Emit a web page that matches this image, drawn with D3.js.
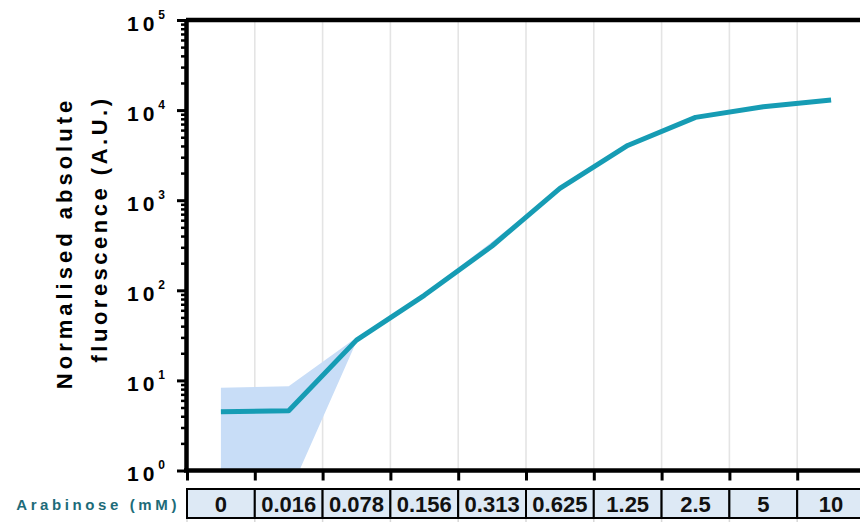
<!DOCTYPE html>
<html>
<head>
<meta charset="utf-8">
<script src="https://cdn.jsdelivr.net/npm/d3@7"></script>
<style>
  body { margin: 0; background: #fff; }
  text { font-family: "Liberation Sans", Arial, sans-serif; }
</style>
</head>
<body>
<div id="chart"></div>
<script>
// arabinose concentrations (mM)
const categories = ["0", "0.016", "0.078", "0.156", "0.313", "0.625", "1.25", "2.5", "5", "10"];
// mean fluorescence and spread
const meanValues = [4.5, 4.6, 28, 88, 310, 1350, 4050, 8300, 10900, 12950];
const upperValues = [8.3, 8.6, 30, 92, 345, 1390, 4150, 8500, 11100, 13150];
const lowerValues = [0.5, 0.54, 27, 85, 300, 1310, 3950, 8100, 10700, 12750];
const majorTicks = [1, 10, 100, 1000, 10000, 100000];
const exponents = ["0", "1", "2", "3", "4", "5"];

const w = 860, h = 522;
const margin = {top: 20, left: 186, bottom: 470.5};

const svg = d3.select("#chart")
  .append("svg")
  .attr("width", w)
  .attr("height", h);

// x scales
const x = d3.scaleBand()
  .domain(categories)
  .range([187, 865])
  .padding(0);
const xIdx = d3.scaleLinear()
  .domain([0, categories.length])
  .range([187, 865]);

// y scale
const y = d3.scaleLog()
  .domain([1, 100000])
  .range([margin.bottom, margin.top]);

// grid lines at category edges
svg.append("g")
  .selectAll("line")
  .data(categories.slice(1))
  .enter()
  .append("line")
  .attr("x1", d => x(d))
  .attr("x2", d => x(d))
  .attr("y1", margin.top)
  .attr("y2", margin.bottom)
  .attr("stroke", "#e4e4e4")
  .attr("stroke-width", 1.6);

// small marks under the table
svg.append("g")
  .selectAll("line")
  .data(categories)
  .enter()
  .append("line")
  .attr("x1", d => x(d))
  .attr("x2", d => x(d))
  .attr("y1", 519)
  .attr("y2", 522)
  .attr("stroke", "#d8d8d8")
  .attr("stroke-width", 1.5);

// clip for the band
svg.append("clipPath")
  .attr("id", "plotClip")
  .append("rect")
  .attr("x", margin.left)
  .attr("y", margin.top)
  .attr("width", w - margin.left)
  .attr("height", margin.bottom - margin.top);

const cx = (d, i) => x(categories[i]) + x.bandwidth() / 2;

const area = d3.area()
  .x(cx)
  .y0((d, i) => y(lowerValues[i]))
  .y1((d, i) => y(upperValues[i]));

svg.append("path")
  .attr("clip-path", "url(#plotClip)")
  .attr("d", area(meanValues))
  .attr("fill", "#c8ddf7");

const line = d3.line()
  .x(cx)
  .y(d => y(d));

svg.append("path")
  .attr("d", line(meanValues))
  .attr("fill", "none")
  .attr("stroke", "#169cb4")
  .attr("stroke-width", 5)
  .attr("stroke-linejoin", "round");

// minor y ticks
let minorTicks = [];
majorTicks.slice(0, -1).forEach(m => {
  for (let k = 2; k <= 9; k++) minorTicks.push(m * k);
});

svg.append("g")
  .attr("transform", `translate(${margin.left},0)`)
  .call(d3.axisLeft(y).tickValues(minorTicks).tickSize(5).tickSizeOuter(0).tickFormat(""))
  .call(g => g.select(".domain").remove())
  .selectAll("line").attr("stroke-width", 2.5);

// major y ticks + axis
const yAxisG = svg.append("g")
  .attr("transform", `translate(${margin.left},0)`)
  .call(d3.axisLeft(y).tickValues(majorTicks).tickSize(9).tickSizeOuter(0).tickFormat(""));
yAxisG.select(".domain").attr("stroke-width", 4.5);
yAxisG.selectAll("line").attr("stroke-width", 3);

// tick labels 10^n
yAxisG.selectAll(".tick")
  .append("text")
  .attr("x", -59)
  .attr("y", 10)
  .attr("fill", "#000")
  .attr("text-anchor", "start")
  .style("font-size", "21px")
  .style("font-weight", "bold")
  .style("letter-spacing", "4px")
  .text("10")
  .append("tspan")
  .attr("dx", "0")
  .attr("dy", "-12")
  .style("font-size", "12px")
  .style("letter-spacing", "0px")
  .text((d, i) => exponents[i]);

// top border
svg.append("line")
  .attr("x1", margin.left)
  .attr("x2", w)
  .attr("y1", margin.top)
  .attr("y2", margin.top)
  .attr("stroke", "#000")
  .attr("stroke-width", 4.5);

// x axis with ticks at category edges
const xAxisG = svg.append("g")
  .attr("transform", `translate(0,${margin.bottom})`)
  .call(d3.axisBottom(xIdx).tickValues(d3.range(categories.length)).tickSize(10).tickSizeOuter(0).tickFormat(""));
xAxisG.select(".domain").attr("d", `M${margin.left - 2},0H${w}`).attr("stroke-width", 4.5);
xAxisG.selectAll("line").attr("stroke-width", 3);

// concentration table
const cells = svg.append("g")
  .selectAll("g")
  .data(categories)
  .enter()
  .append("g");

cells.append("rect")
  .attr("x", d => x(d))
  .attr("y", 489)
  .attr("width", x.bandwidth())
  .attr("height", 29)
  .attr("fill", "#dde9f5")
  .attr("stroke", "#000")
  .attr("stroke-width", 2);

cells.append("text")
  .attr("x", d => x(d) + x.bandwidth() / 2)
  .attr("y", 512)
  .attr("text-anchor", "middle")
  .attr("fill", "#111")
  .style("font-family", "'Liberation Sans Narrow', 'Arial Narrow', sans-serif")
  .style("font-size", "22px")
  .style("font-weight", "bold")
  .text(d => d);

svg.append("text")
  .attr("x", 180)
  .attr("y", 510)
  .attr("text-anchor", "end")
  .attr("fill", "#1d6b79")
  .style("font-size", "15px")
  .style("font-weight", "bold")
  .style("letter-spacing", "3.6px")
  .text("Arabinose (mM)");

// y axis title
svg.append("text")
  .attr("transform", "translate(72,243) rotate(-90)")
  .attr("text-anchor", "middle")
  .style("font-size", "22px")
  .style("font-weight", "bold")
  .style("letter-spacing", "4px")
  .text("Normalised absolute");

svg.append("text")
  .attr("transform", "translate(107,229) rotate(-90)")
  .attr("text-anchor", "middle")
  .style("font-size", "22px")
  .style("font-weight", "bold")
  .style("letter-spacing", "3.5px")
  .text("fluorescence (A.U.)");
</script>
</body>
</html>
